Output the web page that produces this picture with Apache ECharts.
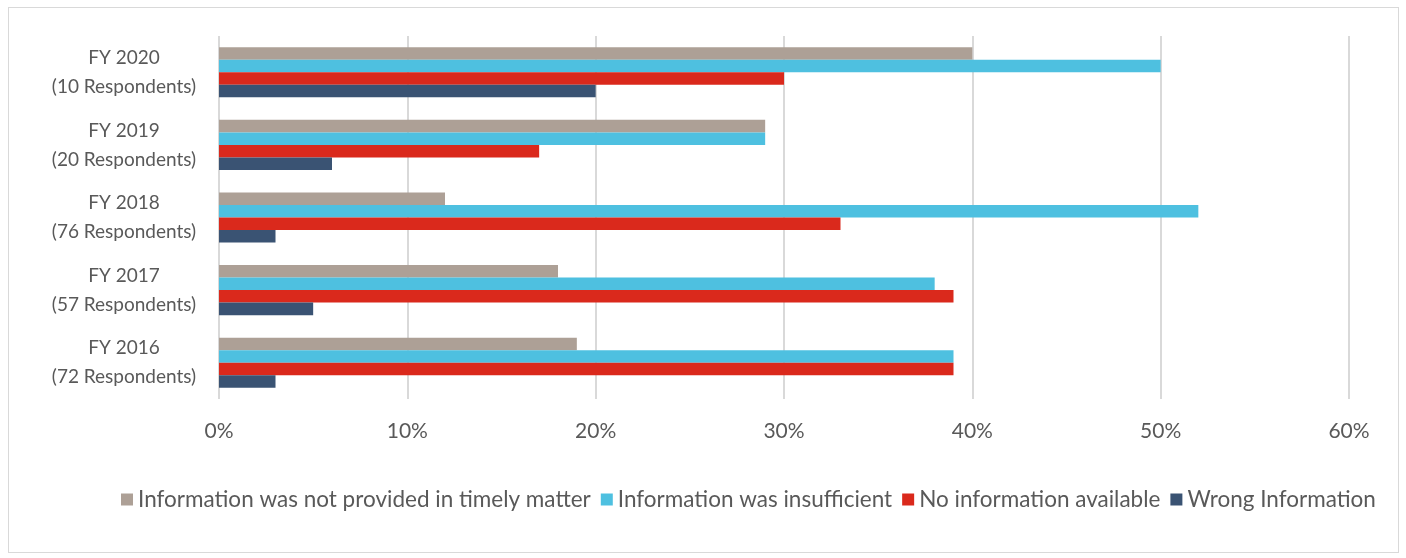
<!DOCTYPE html>
<html>
<head>
<meta charset="utf-8">
<script src="https://cdn.jsdelivr.net/npm/echarts@6/dist/echarts.min.js"></script>
<style>
  html, body { margin: 0; padding: 0; background: #fff; }
  #frame { position: absolute; left: 8px; top: 7px; width: 1389px; height: 544px; border: 1px solid #d9d9d9; }
  #chart { position: absolute; left: 0; top: 0; width: 1406px; height: 558px; }
</style>
</head>
<body>
<div id="frame"></div>
<div id="chart"></div>
<script>
// 年度分类（从上到下）
const years = ['FY 2020', 'FY 2019', 'FY 2018', 'FY 2017', 'FY 2016'];
const respondents = [10, 20, 76, 57, 72];

// 各类问题比例（%）
const notTimely = [40, 29, 12, 18, 19];
const insufficient = [50, 29, 52, 38, 39];
const noInfo = [30, 17, 33, 39, 39];
const wrongInfo = [20, 6, 3, 5, 3];

const seriesNames = [
  'Information was not provided in timely matter',
  'Information was insufficient',
  'No information available',
  'Wrong Information'
];
const seriesColors = ['#ADA096', '#4EC0E0', '#DA291C', '#3A5373'];
const seriesData = [notTimely, insufficient, noInfo, wrongInfo];

const chart = echarts.init(document.getElementById('chart'));

const textColor = '#595959';
const font = 'Lato';

const option = {
  animation: false,
  grid: { left: 219, right: 57, top: 36, bottom: 159, containLabel: false },
  legend: {
    data: seriesNames,
    top: 483,
    left: 116,
    itemWidth: 12,
    itemHeight: 12,
    itemGap: 10,
    icon: 'rect',
    textStyle: { color: textColor, fontSize: 22.5, fontFamily: font, padding: [0, 0, 0, 0] }
  },
  xAxis: {
    type: 'value',
    min: 0,
    max: 60,
    interval: 10,
    axisLabel: { formatter: '{value}%', color: textColor, fontSize: 21, fontFamily: font, margin: 22 },
    axisLine: { show: false },
    axisTick: { show: false },
    splitLine: { lineStyle: { color: '#d9d9d9', width: 2 } }
  },
  yAxis: {
    type: 'category',
    inverse: true,
    data: years,
    axisLabel: {
      color: textColor,
      fontSize: 19,
      fontFamily: font,
      lineHeight: 29,
      align: 'center',
      margin: 95,
      formatter: function (v, i) {
        return v + '\n(' + respondents[i] + ' Respondents)';
      }
    },
    axisLine: { show: false },
    axisTick: { show: false }
  },
  series: seriesNames.map(function (name, k) {
    return {
      name: name,
      type: 'bar',
      data: seriesData[k],
      itemStyle: { color: seriesColors[k] },
      barGap: '0%',
      barCategoryGap: '31%'
    };
  })
};

chart.setOption(option);
window.addEventListener('resize', () => chart.resize());
</script>
</body>
</html>
